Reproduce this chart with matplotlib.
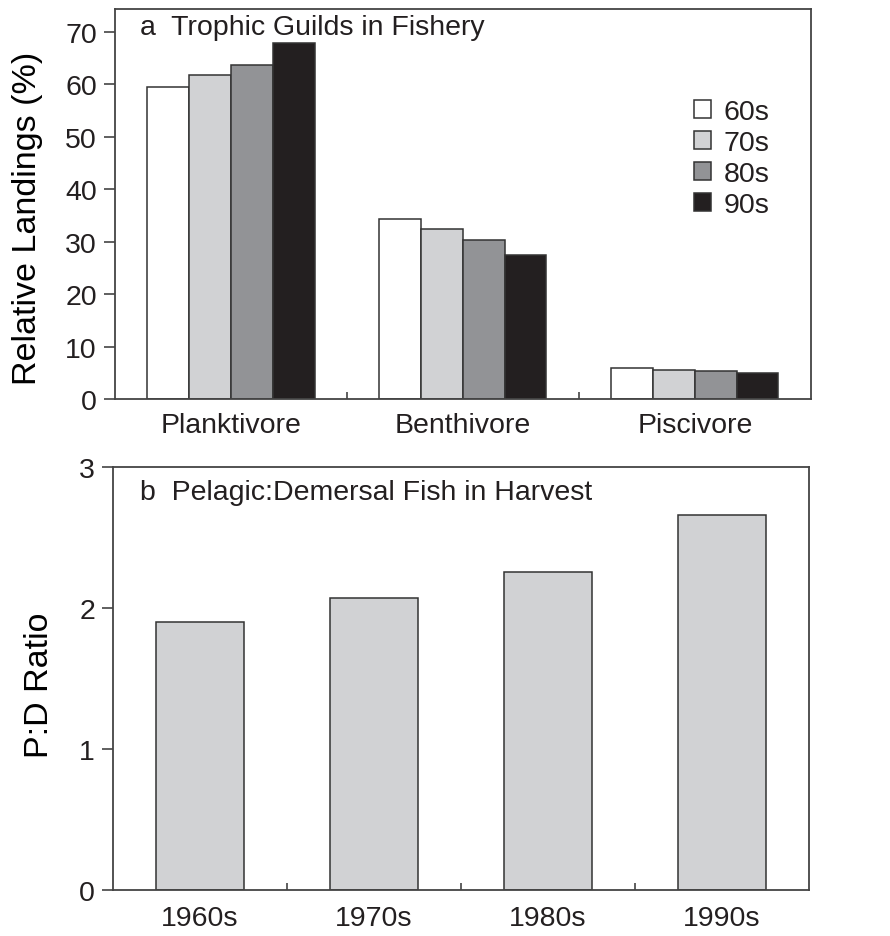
import matplotlib
matplotlib.use("Agg")
import matplotlib.pyplot as plt
import numpy as np

plt.rcParams["font.family"] = ["Liberation Sans", "DejaVu Sans"]
plt.rcParams["text.color"] = "#231f20"
plt.rcParams["xtick.labelcolor"] = "#231f20"
plt.rcParams["ytick.labelcolor"] = "#231f20"

# --------------------------
# Data
# --------------------------

guilds = ["Planktivore", "Benthivore", "Piscivore"]
decades = ["60s", "70s", "80s", "90s"]
landings_60s = [59.4, 34.3, 5.9]
landings_70s = [61.7, 32.4, 5.6]
landings_80s = [63.7, 30.3, 5.3]
landings_90s = [67.8, 27.4, 5.0]

pd_decades = ["1960s", "1970s", "1980s", "1990s"]
pd_ratio = [1.90, 2.07, 2.26, 2.66]

fills = ["#ffffff", "#d1d2d4", "#929396", "#231f20"]
edge = "#333333"
spine_col = "#444444"

fig = plt.figure(figsize=(8.9, 9.37), dpi=100)

ax1 = fig.add_axes([0.1292, 0.5731, 0.7820, 0.4162])
ax2 = fig.add_axes([0.1270, 0.0491, 0.7820, 0.4511])


def style_axis(ax):
    for s in ax.spines.values():
        s.set_color(spine_col)
        s.set_linewidth(1.3)
    ax.tick_params(axis="y", direction="out", length=8, width=1.2,
                   color=spine_col, labelsize=20.5, pad=5)
    ax.tick_params(axis="x", which="major", length=0, labelsize=20.5, pad=9)
    ax.tick_params(axis="x", which="minor", direction="in", length=5,
                   width=1.2, color=spine_col)


# --------------------------
# a: trophic guilds
# --------------------------

x = np.arange(len(guilds))
w = 0.18
series = [landings_60s, landings_70s, landings_80s, landings_90s]
for j, (vals, lab) in enumerate(zip(series, decades)):
    ax1.bar(x + (j - 1.5) * w, vals, width=w, color=fills[j],
            edgecolor=edge, linewidth=1.1, label=lab, zorder=2)

ax1.set_xlim(-0.5, 2.5)
ax1.set_ylim(0, 74.3)
ax1.set_yticks(np.arange(0, 71, 10))
ax1.set_xticks(x)
ax1.set_xticklabels(guilds)
ax1.set_xticks([0.5, 1.5], minor=True)
style_axis(ax1)
ax1.set_ylabel("Relative Landings (%)", fontsize=24.5, va="center")
ax1.yaxis.set_label_coords(-0.126, 0.467)
ax1.text(0.036, 0.936, "a  Trophic Guilds in Fishery", transform=ax1.transAxes,
         fontsize=20.5, va="baseline", ha="left")

leg = ax1.legend(loc="upper left", bbox_to_anchor=(0.832, 0.77),
                 frameon=False, fontsize=20.5, borderpad=0, borderaxespad=0,
                 handlelength=0.6, handleheight=0.6, handletextpad=0.45,
                 labelspacing=0.18)

# --------------------------
# b: pelagic:demersal ratio
# --------------------------

xb = np.arange(len(pd_decades))
ax2.bar(xb, pd_ratio, width=0.505, color="#d1d2d4", edgecolor=edge,
        linewidth=1.1, zorder=2)
ax2.set_xlim(-0.5, 3.5)
ax2.set_ylim(0, 3)
ax2.set_yticks([0, 1, 2, 3])
ax2.set_xticks(xb)
ax2.set_xticklabels(pd_decades)
ax2.set_xticks([0.5, 1.5, 2.5], minor=True)
style_axis(ax2)
ax2.tick_params(axis="x", which="major", pad=11)
ax2.set_ylabel("P:D Ratio", fontsize=24.5, va="center")
ax2.yaxis.set_label_coords(-0.105, 0.487)
ax2.text(0.039, 0.925, "b  Pelagic:Demersal Fish in Harvest",
         transform=ax2.transAxes, fontsize=20.5, va="baseline", ha="left")

plt.savefig("out.png", dpi=100)
plt.close()
